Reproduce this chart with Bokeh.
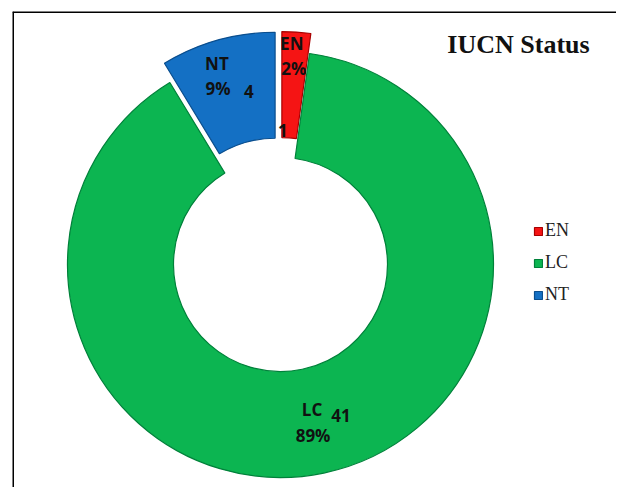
import math
from bokeh.plotting import figure
from bokeh.models import ColumnDataSource, Range1d, Span, Label, Legend, LegendItem
from bokeh.embed import file_html
from bokeh.resources import INLINE
from bokeh.core.properties import value

# ---- data ----
categories = ["EN", "LC", "NT"]
counts = [1, 41, 4]
title_text = "IUCN Status"

# ---- styles ----
colors = ["#F51414", "#0CB551", "#1470C4"]
edge_colors = ["#A80000", "#00813A", "#0A4E8E"]
explode = [20, 0, 20]
outer_r = 213
inner_r = 107
label_r = 160
name_off = [(-1, -41), (-1, -12), (-15, -28)]
pct_off = [(1, -16), (0, 14), (-14, -3)]
cnt_off = [(-10, 46), (28, -6), (17, 0)]

total = sum(counts)
cum = 0.0
xs, ys, starts, ends = [], [], [], []
lx, ly = [], []
for c, e in zip(counts, explode):
    f = c / total
    th1 = cum * 2 * math.pi
    th2 = (cum + f) * 2 * math.pi
    cum += f
    mid = (th1 + th2) / 2
    cx = e * math.sin(mid)
    cy = e * math.cos(mid)
    xs.append(cx)
    ys.append(cy)
    starts.append(math.pi / 2 - th2)
    ends.append(math.pi / 2 - th1)
    lx.append(cx + label_r * math.sin(mid))
    ly.append(cy + label_r * math.cos(mid))

pcts = ["%d%%" % round(c / total * 100) for c in counts]

src = ColumnDataSource(dict(x=xs, y=ys, start=starts, end=ends, color=colors,
                            edge=edge_colors, cat=categories))

p = figure(width=616, height=487, output_backend="svg", toolbar_location=None,
           x_range=Range1d(-268, 336), y_range=Range1d(-223, 253),
           min_border_left=12, min_border_top=11, min_border_right=0, min_border_bottom=0,
           x_axis_location=None, y_axis_location=None, outline_line_color=None)
p.grid.visible = False
p.background_fill_color = "white"

r = p.annular_wedge(x="x", y="y", inner_radius=inner_r, outer_radius=outer_r,
                    start_angle="start", end_angle="end", fill_color="color",
                    line_color="edge", line_width=1.2, source=src)

def add_texts(texts, offs):
    s = ColumnDataSource(dict(x=lx, y=ly, t=texts,
                              xo=[o[0] for o in offs], yo=[o[1] for o in offs]))
    p.text(x="x", y="y", text="t", x_offset="xo", y_offset="yo", source=s,
           text_font=value("Open Sans"), text_font_style="bold",
           text_font_size="17px", text_color="#111111",
           text_align="center", text_baseline="middle")

add_texts(categories, name_off)
add_texts(pcts, pct_off)
add_texts([str(c) for c in counts], cnt_off)

p.add_layout(Label(x=238, y=220, text=title_text, text_font="Liberation Serif",
                   text_font_style="bold", text_font_size="26px", text_color="#111111",
                   text_align="center", text_baseline="middle"))

legend = Legend(items=[LegendItem(label=c, renderers=[r], index=i)
                       for i, c in enumerate(categories)],
                location=(521, 182), orientation="vertical",
                border_line_color=None, background_fill_alpha=0,
                padding=0, margin=0, spacing=11, glyph_width=10, glyph_height=10,
                label_standoff=2, label_height=10,
                label_text_font="Liberation Serif", label_text_font_size="18px",
                label_text_color="#222222")
p.add_layout(legend, "center")

p.add_layout(Span(location=-268, dimension="height", line_color="black", line_width=3))
p.add_layout(Span(location=253, dimension="width", line_color="black", line_width=3))

open("out.html", "w").write(file_html(p, INLINE))
